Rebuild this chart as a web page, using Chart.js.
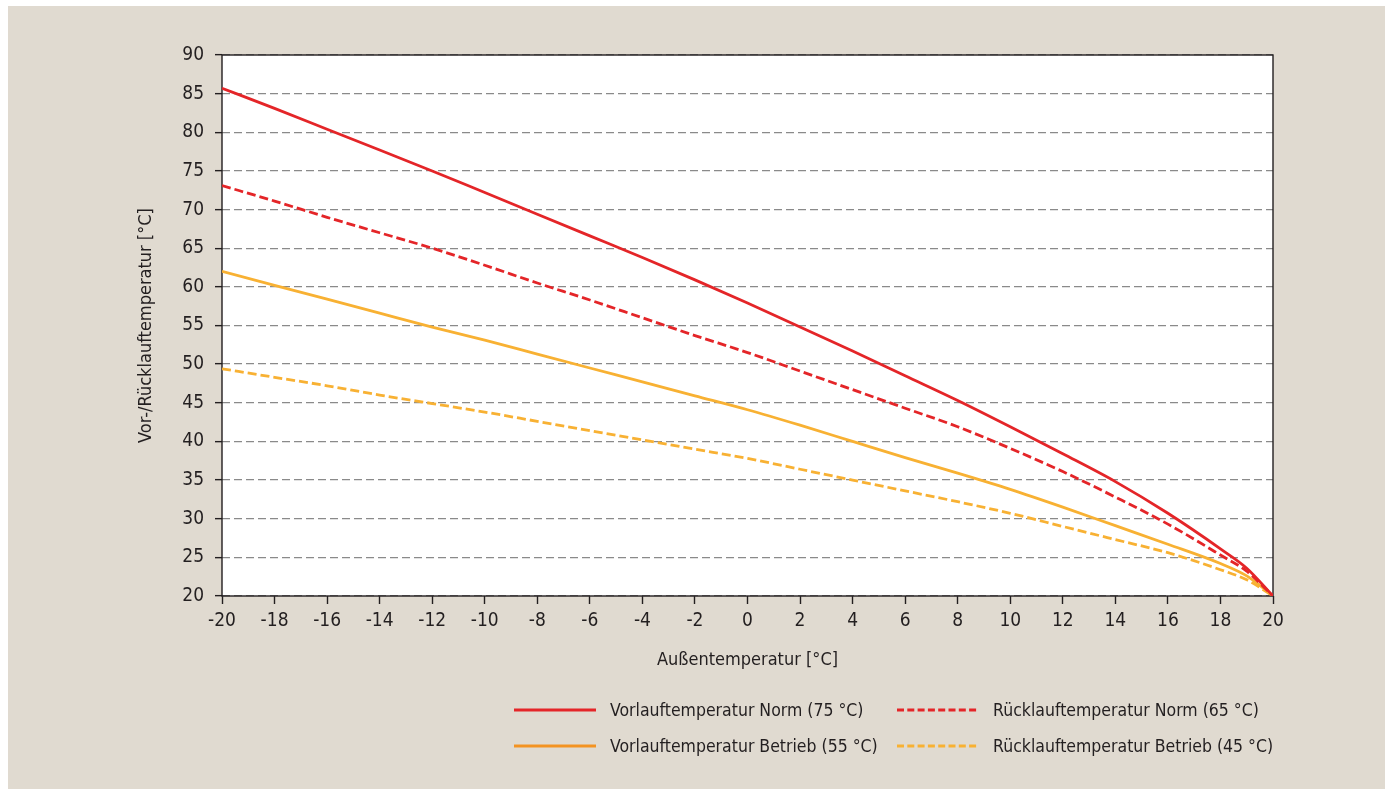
<!DOCTYPE html>
<html>
<head>
<meta charset="utf-8">
<title>Heizkurve</title>
<script src="https://cdn.jsdelivr.net/npm/chart.js@4.4.1/dist/chart.umd.min.js"></script>
<style>
  html, body { margin: 0; padding: 0; background: #fff; }
  #wrap { width: 1391px; height: 789px; }
</style>
</head>
<body>
<div id="wrap"><canvas id="c" width="1391" height="789"></canvas></div>
<script>
// Außentemperatur (x axis)
var outsideTemp = [-20, -18, -16, -14, -12, -10, -8, -6, -4, -2, 0, 2, 4, 6, 8, 10, 12, 14, 16, 18, 19, 20];

var vorlaufNorm = [85.7, 83.1, 80.4, 77.7, 75.0, 72.2, 69.4, 66.6, 63.8, 60.9, 57.9, 54.8, 51.7, 48.5, 45.3, 41.9, 38.4, 34.8, 30.7, 26.1, 23.6, 20];
var ruecklaufNorm = [73.1, 71.1, 69.0, 67.0, 65.0, 62.8, 60.5, 58.3, 56.0, 53.7, 51.5, 49.1, 46.7, 44.3, 41.9, 39.1, 36.1, 32.8, 29.3, 25.3, 23.2, 20];
var vorlaufBetrieb = [62.0, 60.2, 58.4, 56.6, 54.8, 53.1, 51.3, 49.5, 47.7, 45.9, 44.1, 42.1, 40.0, 37.9, 35.9, 33.8, 31.5, 29.1, 26.7, 24.2, 22.6, 20];
var ruecklaufBetrieb = [49.4, 48.3, 47.2, 46.0, 44.9, 43.8, 42.6, 41.4, 40.2, 39.0, 37.8, 36.4, 35.0, 33.6, 32.2, 30.7, 29.0, 27.3, 25.6, 23.4, 22.1, 20];

var seriesLabels = [
  "Vorlauftemperatur Norm (75 °C)",
  "Rücklauftemperatur Norm (65 °C)",
  "Vorlauftemperatur Betrieb (55 °C)",
  "Rücklauftemperatur Betrieb (45 °C)",
];

var RED = "#e42528";
var YELLOW = "#f8b133";
var ORANGE = "#f39322";
var TEXT = "#231f20";
var FONT = "'Liberation Sans Narrow', 'Arial Narrow', 'DejaVu Sans Condensed', sans-serif";

Chart.defaults.font.family = FONT;
Chart.defaults.font.size = 19;
Chart.defaults.color = TEXT;

function points(values) {
  return outsideTemp.map(function (x, i) {
    return { x: x, y: values[i] };
  });
}

function line(label, values, color, dashed) {
  return {
    label: label,
    data: points(values),
    borderColor: color,
    backgroundColor: color,
    borderWidth: 2.8,
    borderDash: dashed ? [9, 4] : [],
    pointRadius: 0,
    cubicInterpolationMode: "monotone",
    fill: false,
  };
}

// beige page, white plot area, black frame
var framePlugin = {
  id: "frame",
  beforeDraw: function (chart) {
    var ctx = chart.ctx;
    var a = chart.chartArea;
    ctx.save();
    ctx.fillStyle = "#fff";
    ctx.fillRect(0, 0, chart.width, chart.height);
    ctx.fillStyle = "#e0dad0";
    ctx.fillRect(8, 6, 1377, 783);
    ctx.fillStyle = "#fff";
    ctx.fillRect(a.left, a.top, a.right - a.left, a.bottom - a.top);
    ctx.restore();
  },
  beforeDatasetsDraw: function (chart) {
    var ctx = chart.ctx;
    var a = chart.chartArea;
    ctx.save();
    ctx.strokeStyle = TEXT;
    ctx.lineWidth = 1.4;
    ctx.strokeRect(a.left, a.top, a.right - a.left, a.bottom - a.top);
    ctx.restore();
  },
};

// legend in two columns below the chart
var legendPlugin = {
  id: "legend2col",
  afterDraw: function (chart) {
    var ctx = chart.ctx;
    var items = [
      { ds: 0, x: 514, y: 710, color: RED, dash: [] },
      { ds: 1, x: 897, y: 710, color: RED, dash: [7, 3.3] },
      { ds: 2, x: 514, y: 746, color: ORANGE, dash: [] },
      { ds: 3, x: 897, y: 746, color: YELLOW, dash: [7, 3.3] },
    ];
    ctx.save();
    ctx.font = "17.5px " + FONT;
    ctx.textBaseline = "middle";
    ctx.fillStyle = TEXT;
    items.forEach(function (it) {
      ctx.beginPath();
      ctx.setLineDash(it.dash);
      ctx.strokeStyle = it.color;
      ctx.lineWidth = 3;
      ctx.moveTo(it.x, it.y);
      ctx.lineTo(it.x + 82, it.y);
      ctx.stroke();
      ctx.setLineDash([]);
      ctx.fillText(chart.data.datasets[it.ds].label, it.x + 96, it.y + 1);
    });
    ctx.restore();
  },
};

var ctx = document.getElementById("c").getContext("2d");
var chart = new Chart(ctx, {
  type: "line",
  data: {
    datasets: [
      line(seriesLabels[0], vorlaufNorm, RED, false),
      line(seriesLabels[1], ruecklaufNorm, RED, true),
      line(seriesLabels[2], vorlaufBetrieb, YELLOW, false),
      line(seriesLabels[3], ruecklaufBetrieb, YELLOW, true),
    ],
  },
  options: {
    responsive: false,
    animation: false,
    layout: {
      padding: { left: 0, top: 55, right: 118, bottom: 113 },
    },
    plugins: {
      legend: { display: false },
      tooltip: { enabled: false },
    },
    scales: {
      x: {
        type: "linear",
        min: -20,
        max: 20,
        afterFit: function (scale) {
          scale.height = 80;
        },
        ticks: { stepSize: 2, padding: 6, color: TEXT, font: { size: 19 } },
        grid: {
          drawOnChartArea: false,
          drawTicks: true,
          tickLength: 8,
          tickColor: TEXT,
          tickWidth: 1.4,
        },
        border: { display: false },
        title: {
          display: true,
          text: "Außentemperatur [°C]",
          color: TEXT,
          font: { size: 18 },
          padding: { top: 0, bottom: 5 },
        },
      },
      y: {
        min: 20,
        max: 90,
        afterFit: function (scale) {
          scale.width = 222;
        },
        ticks: { stepSize: 5, padding: 11, color: TEXT, font: { size: 19 } },
        grid: {
          color: "#8a8a8a",
          lineWidth: 1.3,
          drawTicks: true,
          tickLength: 7,
          tickColor: TEXT,
          tickWidth: 1.4,
          tickBorderDash: [],
        },
        border: { display: false, dash: [8, 4] },
        title: {
          display: true,
          text: "Vor-/Rücklauftemperatur [°C]",
          color: TEXT,
          font: { size: 18 },
          padding: { top: 136, bottom: 0 },
        },
      },
    },
  },
  plugins: [framePlugin, legendPlugin],
});
</script>
</body>
</html>
